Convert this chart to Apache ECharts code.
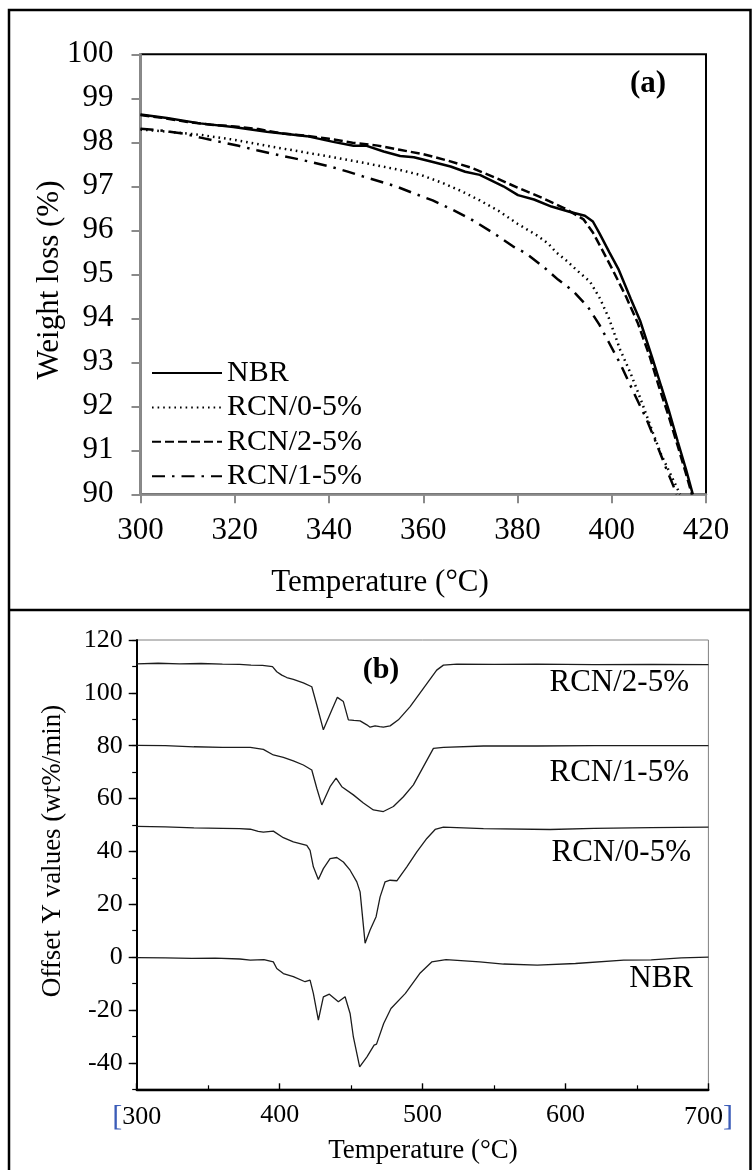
<!DOCTYPE html>
<html>
<head>
<meta charset="utf-8">
<script src="https://cdn.jsdelivr.net/npm/echarts@6/dist/echarts.min.js"></script>
<style>
  html, body { margin: 0; padding: 0; background: #fff; }
  #chart { width: 752px; height: 1170px; }
</style>
</head>
<body>
<div id="chart"></div>
<script>
// ---------- (a) TGA: weight loss (%) against temperature (°C) ----------
const tgaNBR = [[300,98.63],[305.6,98.55],[312.6,98.43],[319.7,98.35],[326.8,98.24],[335.3,98.14],[340.9,98.01],[345.2,97.92],[348,97.92],[351.6,97.79],[355.1,97.69],[358,97.66],[361,97.58],[365.8,97.45],[368.9,97.33],[372,97.26],[377,97.0],[380.1,96.8],[383.5,96.7],[387.2,96.54],[391,96.42],[394.3,96.33],[396,96.2],[397.4,95.93],[399.5,95.5],[401.5,95.1],[404,94.45],[406,93.95],[408.6,93.1],[410.5,92.45],[412.1,91.91],[414,91.2],[415.8,90.55],[417.2,90.0]];
const tgaRCN0 = [[300,98.29],[306,98.24],[312.6,98.17],[319.7,98.06],[326.8,97.92],[333.9,97.79],[340.9,97.66],[348,97.52],[355.1,97.37],[359.7,97.25],[364,97.08],[367.9,96.9],[372,96.68],[376,96.44],[380,96.15],[382,96.02],[384.2,95.88],[386.5,95.7],[388.2,95.5],[390.5,95.3],[392.5,95.1],[395.4,94.83],[397.5,94.45],[399.4,94.0],[401.8,93.28],[404,92.75],[406,92.2],[408.8,91.38],[410.5,90.9],[412.5,90.45],[414.5,90.0]];
const tgaRCN2 = [[300,98.62],[305,98.55],[310,98.46],[315,98.4],[320,98.36],[325,98.3],[330,98.2],[335,98.15],[340,98.08],[345,97.99],[350,97.93],[355,97.83],[360,97.73],[365,97.59],[370,97.43],[375,97.21],[380,96.97],[385,96.75],[390,96.5],[394,96.25],[396,95.95],[398,95.55],[400.2,95.1],[403,94.5],[405.5,93.9],[408,93.15],[410,92.45],[412,91.8],[414,91.1],[415.8,90.45],[417,90.0]];
const tgaRCN1 = [[300,98.31],[305,98.26],[309.1,98.2],[313,98.1],[316.9,98.01],[320.8,97.92],[324.7,97.82],[328.5,97.73],[332.4,97.64],[336.3,97.55],[340.2,97.45],[343.8,97.34],[347.3,97.22],[350.8,97.11],[354.4,96.99],[358,96.84],[362,96.68],[366,96.48],[370,96.26],[375,95.93],[379.1,95.63],[381.9,95.47],[385.5,95.17],[388.6,94.88],[391.8,94.62],[395,94.25],[397.4,93.85],[399.4,93.45],[401.8,92.97],[404.5,92.35],[407.4,91.7],[409.5,91.15],[411.5,90.6],[413.8,90.0]];

// ---------- (b) DTG curves, each shifted by an offset ----------
const dtgTicksY = [-40, -20, 0, 20, 40, 60, 80, 100, 120];
const dtgRCN2 = [[300,111.0],[315,111.2],[330,111.0],[345,111.1],[360,110.9],[372,110.8],[380,110.5],[388,110.4],[395,109.9],[398,108.0],[401.5,106.7],[405,105.8],[409.6,105.1],[416.6,103.8],[422.5,102.3],[426,95.4],[430.6,86.0],[436.5,93.5],[440.4,98.3],[444.6,96.7],[448.1,89.8],[452,89.6],[456.3,89.4],[461,87.9],[463.3,87.0],[466.8,87.5],[470,87.2],[472.6,87.0],[477.3,87.5],[483.1,89.8],[491.3,94.8],[500.6,101.7],[509.9,108.6],[514.6,110.5],[524,110.9],[550,110.8],[580,110.9],[620,110.7],[660,110.8],[700,110.7]];
const dtgRCN1 = [[300,80.1],[320,80.0],[340,79.6],[360,79.4],[379.5,79.4],[388.6,78.6],[395.6,76.5],[402.6,75.6],[409.6,74.3],[416.6,72.7],[422.5,70.8],[426,63.9],[429.5,57.6],[435.3,64.5],[439.5,67.7],[443.5,64.5],[451.6,61.4],[458.6,58.3],[465.6,55.7],[472.6,55.1],[479.6,57.0],[486.6,60.7],[493.6,65.2],[500.6,72.1],[507.6,79.0],[514.6,79.4],[542.6,79.9],[580,79.9],[620,80.0],[660,80.0],[700,80.0]];
const dtgRCN0 = [[300,49.5],[320,49.3],[340,48.9],[360,48.7],[372,48.6],[379.5,48.4],[385,47.6],[388.6,47.3],[395.6,47.7],[402.6,45.2],[409.6,43.6],[419,42.3],[421.3,40.4],[423.6,34.2],[427.1,29.4],[430.6,33.5],[435.3,37.3],[440,37.7],[444.6,36.0],[449.3,32.9],[454,28.5],[456.3,24.7],[459.8,5.3],[463.3,10.3],[467.5,15.3],[470.3,22.8],[473.8,28.5],[477.3,29.1],[482,28.9],[489,34.2],[496,39.8],[503,44.9],[508.8,48.3],[514.6,49.2],[542.6,48.6],[589.2,48.3],[620,48.7],[660,49.0],[700,49.2]];
const dtgNBR = [[300,-0.2],[320,-0.3],[338.6,-0.5],[355,-0.4],[372.2,-0.7],[379.5,-1.1],[389,-0.9],[395.6,-1.8],[398,-4.3],[402.6,-6.2],[409.6,-7.4],[417.8,-9.3],[421.3,-8.7],[423.6,-13.7],[427.1,-23.8],[430.6,-15],[434.8,-14],[441.1,-16.9],[445.8,-15],[449.3,-21.3],[451.6,-30.2],[456,-41.5],[461.1,-37.7],[466.1,-33.3],[467.8,-32.9],[472.8,-25.1],[477.9,-19.4],[488,-13.7],[498,-6.2],[506.4,-1.8],[516.4,-0.9],[540,-1.8],[556.7,-2.6],[580.3,-3.0],[607,-2.4],[640.7,-1.1],[660,-1.0],[681,-0.3],[700,0]];

const SERIF = '"Liberation Serif", "Times New Roman", serif';
const GREY = '#8a8a8a';

const chart = echarts.init(document.getElementById('chart'), null, { renderer: 'canvas' });

function tgaLine(name, data, type) {
  return {
    name, type: 'line', xAxisIndex: 0, yAxisIndex: 0, data,
    symbol: 'none', smooth: false, clip: true,
    itemStyle: { color: '#000' },
    lineStyle: { color: '#000', width: 2.5, type }
  };
}
function dtgLine(name, data) {
  return {
    name, type: 'line', xAxisIndex: 1, yAxisIndex: 1, data,
    symbol: 'none', smooth: false, clip: true,
    itemStyle: { color: '#1c1c1c' },
    lineStyle: { color: '#1c1c1c', width: 1.3 }
  };
}

function txt(text, x, y, size, opts) {
  opts = opts || {};
  return {
    type: 'text', x, y, rotation: opts.rotation || 0, z: 10,
    style: {
      text, x: 0, y: 0, fill: '#000',
      font: (opts.bold ? 'bold ' : '') + size + 'px ' + SERIF,
      align: opts.align || 'center', verticalAlign: 'middle'
    }
  };
}

chart.setOption({
  animation: false,
  backgroundColor: '#fff',
  grid: [
    { left: 140.5, top: 54.3, width: 565.5, height: 440, show: true, borderColor: '#000', borderWidth: 2, backgroundColor: 'transparent' },
    { left: 136.7, top: 640, width: 571.7, height: 449.3, show: true, borderColor: '#808080', borderWidth: 1, backgroundColor: 'transparent' }
  ],
  legend: {
    data: ['NBR', 'RCN/0-5%', 'RCN/2-5%', 'RCN/1-5%'],
    orient: 'vertical', left: 151, top: 358, padding: 0,
    itemWidth: 70, itemHeight: 14, itemGap: 4.4,
    itemStyle: { opacity: 0 },
    textStyle: { fontFamily: SERIF, fontSize: 30, color: '#000', lineHeight: 30 },
    selectedMode: false
  },
  xAxis: [
    {
      gridIndex: 0, type: 'value', min: 300, max: 420, interval: 20,
      axisLine: { show: true, onZero: false, lineStyle: { color: GREY, width: 2.5 } },
      axisTick: { show: true, length: 9, lineStyle: { color: GREY, width: 2 } },
      axisLabel: { fontFamily: SERIF, fontSize: 31, color: '#000', margin: 21 },
      splitLine: { show: false }
    },
    {
      gridIndex: 1, type: 'value', min: 300, max: 700, interval: 100,
      axisLine: { show: true, onZero: false, lineStyle: { color: '#000', width: 2.3 } },
      axisTick: { show: true, inside: true, length: 6, lineStyle: { color: '#000', width: 1.4 } },
      minorTick: { show: true, splitNumber: 2, length: 4, lineStyle: { color: '#000', width: 1.2 } },
      axisLabel: {
        fontFamily: SERIF, fontSize: 26, color: '#000', margin: 13,
        formatter: v => v === 300 ? '{br|[}300' : (v === 700 ? '700{br|]}' : String(v)),
        rich: { br: { color: '#3b5cb8', fontSize: 30, fontFamily: SERIF, fontWeight: 'lighter' } }
      },
      splitLine: { show: false }, minorSplitLine: { show: false }
    }
  ],
  yAxis: [
    {
      gridIndex: 0, type: 'value', min: 90, max: 100, interval: 1,
      axisLine: { show: true, onZero: false, lineStyle: { color: GREY, width: 2.5 } },
      axisTick: { show: true, length: 9, lineStyle: { color: GREY, width: 2 } },
      axisLabel: { fontFamily: SERIF, fontSize: 31, color: '#000', margin: 27 },
      splitLine: { show: false }
    },
    {
      gridIndex: 1, type: 'value', position: 'left', min: -50, max: 120, interval: 10,
      axisLine: { show: true, onZero: false, lineStyle: { color: '#000', width: 2 } },
      axisTick: { show: true, length: 8, customValues: dtgTicksY, lineStyle: { color: '#000', width: 1.4 } },
      axisLabel: { fontFamily: SERIF, fontSize: 26, color: '#000', margin: 14, customValues: dtgTicksY },
      splitLine: { show: false }
    },
    {
      // short ticks every 10 units on the DTG axis
      gridIndex: 1, type: 'value', position: 'left', offset: 0, min: -50, max: 120, interval: 10,
      axisLine: { show: false, onZero: false },
      axisTick: { show: true, length: 4.5, lineStyle: { color: '#000', width: 1.2 } },
      axisLabel: { show: false },
      splitLine: { show: false }
    }
  ],
  series: [
    tgaLine('NBR', tgaNBR, 'solid'),
    tgaLine('RCN/0-5%', tgaRCN0, [1.6, 4]),
    tgaLine('RCN/2-5%', tgaRCN2, [9, 4]),
    tgaLine('RCN/1-5%', tgaRCN1, [13, 7, 2.5, 7]),
    dtgLine('DTG RCN/2-5%', dtgRCN2),
    dtgLine('DTG RCN/1-5%', dtgRCN1),
    dtgLine('DTG RCN/0-5%', dtgRCN0),
    dtgLine('DTG NBR', dtgNBR)
  ],
  graphic: [
    { type: 'rect', z: 0, shape: { x: 9, y: 10, width: 741.5, height: 1175 }, style: { fill: 'none', stroke: '#000', lineWidth: 2.5 } },
    { type: 'line', z: 0, shape: { x1: 9, y1: 610, x2: 751, y2: 610 }, style: { stroke: '#000', lineWidth: 2.5 } },
    txt('Weight loss (%)', 50, 280, 31, { rotation: Math.PI / 2 }),
    txt('Temperature (°C)', 380, 583, 31),
    txt('(a)', 648, 84, 31, { bold: true }),
    txt('Offset Y values (wt%/min)', 53, 851, 27, { rotation: Math.PI / 2 }),
    txt('Temperature (°C)', 423, 1151, 27),
    txt('(b)', 381, 670, 30, { bold: true }),
    txt('RCN/2-5%', 689, 683, 31, { align: 'right' }),
    txt('RCN/1-5%', 689, 772.5, 31, { align: 'right' }),
    txt('RCN/0-5%', 691, 853, 31, { align: 'right' }),
    txt('NBR', 693, 979, 31, { align: 'right' })
  ]
});
</script>
</body>
</html>
